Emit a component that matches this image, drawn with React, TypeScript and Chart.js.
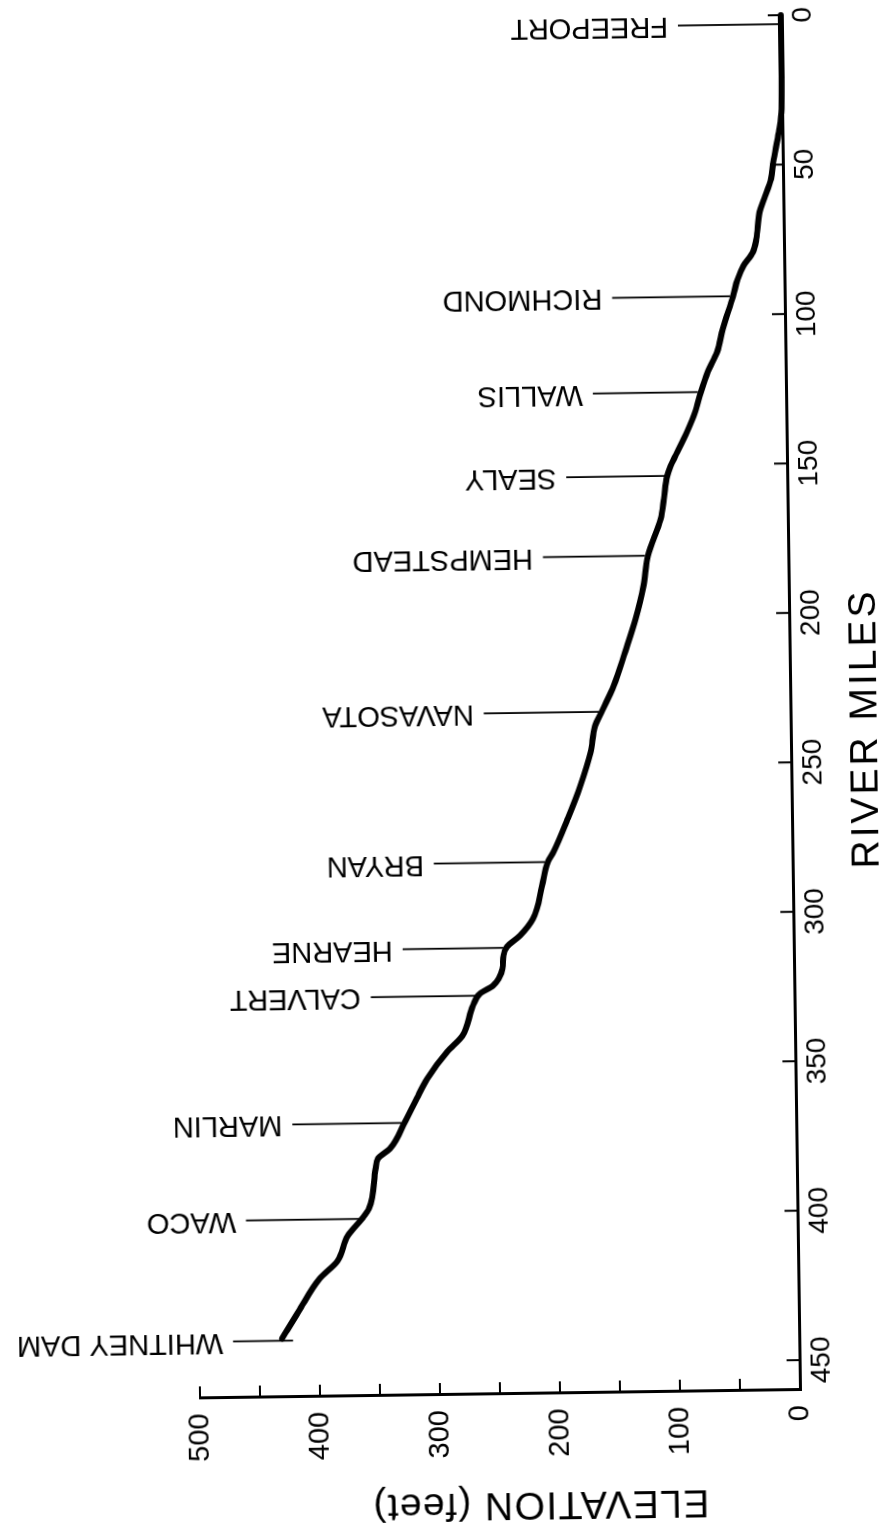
import React, { useEffect, useRef } from "react";
import { Chart, registerables } from "chart.js";

Chart.register(...registerables);

// ---------- data ----------
const RIVER_MILES = [
  0, 31.4, 39.1, 49.2, 54.7, 61.4, 65.8, 74.8, 79.2, 83.7,
  88.1, 93.8, 104.7, 112.4, 119, 125.7, 132.4, 139, 147, 150.3,
  153.6, 161.3, 168, 180.2, 190.3, 201.3, 212.2, 223.6, 231.9, 236.9,
  245.6, 256.9, 267.9, 278.8, 282.2, 290.1, 301.1, 306.7, 310.4, 313.3,
  317.7, 323.3, 325.9, 329.9, 339.9, 345.2, 354.2, 360.7, 368.4, 377.4,
  380.6, 384, 397.3, 400.7, 406.3, 414.8, 420.5, 431.5, 440.4,
];
const ELEVATION_FT = [
  0, 0.5, 3, 8, 10, 16, 20, 23, 26, 34,
  39, 43, 52, 57, 65, 71, 76, 83, 93, 97,
  100, 103, 106, 117, 121, 128, 137, 147, 157, 163,
  167, 176, 187, 199, 204, 209, 217, 228, 239, 242,
  243, 251, 262, 268, 277, 290, 307, 316, 326, 339,
  349, 351, 357, 363, 375, 384, 399, 417, 431,
];
const STATION_NAMES = [
  "FREEPORT", "RICHMOND", "WALLIS", "SEALY", "HEMPSTEAD", "NAVASOTA",
  "BRYAN", "HEARNE", "CALVERT", "MARLIN", "WACO", "WHITNEY DAM",
];
const STATION_MILES = [3, 93.8, 125.7, 153.6, 180.2, 232.2, 282.2, 310.7, 326.6, 368.8, 400.7, 441.1];

const MILE_MIN = 0;
const MILE_MAX = 460;
const MILE_STEP = 50;
const ELEV_MIN = 0;
const ELEV_MAX = 500;
const ELEV_TICK_STEP = 50;
const ELEV_LABEL_STEP = 100;
const X_TITLE = "RIVER MILES";
const Y_TITLE = "ELEVATION (feet)";

// ---------- layout / style ----------
const CANVAS_W = 1600;
const CANVAS_H = 940;
const FONT = '"Liberation Sans", Arial, sans-serif';
const LEADER_LENGTHS = [100, 118, 105, 98, 102, 115, 111, 101, 105, 109, 113, 60];
const LEADER_GAPS = [3, 3, 3, 3, 3, 3, 3, 3, 3, 3, 3, -11];
const LABEL_GAP = 10;

function elevationAt(mile: number): number {
  for (let i = 0; i < RIVER_MILES.length - 1; i++) {
    const a = RIVER_MILES[i];
    const b = RIVER_MILES[i + 1];
    if (mile >= a && mile <= b) {
      const t = (mile - a) / (b - a);
      return ELEVATION_FT[i] + t * (ELEVATION_FT[i + 1] - ELEVATION_FT[i]);
    }
  }
  return mile < RIVER_MILES[0] ? ELEVATION_FT[0] : ELEVATION_FT[ELEVATION_FT.length - 1];
}

const profilePlugin = {
  id: "profileAnnotations",
  afterDraw(chart: any) {
    const { ctx, chartArea } = chart;
    const xs = chart.scales.x;
    const ys = chart.scales.y;
    ctx.save();
    ctx.strokeStyle = "#000";
    ctx.fillStyle = "#000";
    ctx.lineCap = "butt";

    // inward tick marks
    ctx.lineWidth = 2;
    xs.ticks.forEach((t: any) => {
      const px = xs.getPixelForValue(t.value);
      ctx.beginPath();
      ctx.moveTo(px, chartArea.bottom);
      ctx.lineTo(px, chartArea.bottom - 13);
      ctx.stroke();
    });
    ys.ticks.forEach((t: any) => {
      const py = ys.getPixelForValue(t.value);
      ctx.beginPath();
      ctx.moveTo(chartArea.left, py);
      ctx.lineTo(chartArea.left + 12, py);
      ctx.stroke();
    });

    // station leaders and names
    ctx.lineWidth = 1.8;
    ctx.font = `29px ${FONT}`;
    STATION_NAMES.forEach((name, i) => {
      const mile = STATION_MILES[i];
      const px = xs.getPixelForValue(mile);
      const py = ys.getPixelForValue(elevationAt(mile));
      const y0 = py - LEADER_GAPS[i];
      const y1 = y0 - LEADER_LENGTHS[i];
      ctx.beginPath();
      ctx.moveTo(px, y0);
      ctx.lineTo(px, y1);
      ctx.stroke();
      ctx.save();
      ctx.translate(px, y1 - LABEL_GAP);
      ctx.rotate(-Math.PI / 2);
      ctx.textAlign = "left";
      ctx.textBaseline = "middle";
      ctx.fillText(name, 0, 0);
      ctx.restore();
    });

    // axis titles
    ctx.font = `39px ${FONT}`;
    ctx.textAlign = "center";
    ctx.textBaseline = "middle";
    ctx.save();
    (ctx as any).letterSpacing = "3px";
    ctx.fillText(X_TITLE, (chartArea.left + chartArea.right) / 2 - 27, chartArea.bottom + 75);
    ctx.restore();

    ctx.save();
    (ctx as any).letterSpacing = "1.4px";
    ctx.translate(chartArea.left - 110, (chartArea.top + chartArea.bottom) / 2 + 39);
    ctx.rotate(-Math.PI / 2);
    ctx.fillText(Y_TITLE, 0, 0);
    ctx.restore();

    ctx.restore();
  },
};

export default function App() {
  const canvasRef = useRef<HTMLCanvasElement | null>(null);

  useEffect(() => {
    const canvas = canvasRef.current;
    if (!canvas) return;
    const chart = new Chart(canvas, {
      type: "line",
      data: {
        datasets: [
          {
            label: "Profile",
            data: RIVER_MILES.map((m, i) => ({ x: m, y: ELEVATION_FT[i] })),
            borderColor: "#000",
            borderWidth: 6,
            pointRadius: 0,
            cubicInterpolationMode: "monotone",
            borderCapStyle: "round",
            borderJoinStyle: "round",
            fill: false,
            clip: false as any,
          },
        ],
      },
      options: {
        animation: false,
        responsive: false,
        devicePixelRatio: 1,
        layout: { padding: { left: 0, right: 75, top: 220, bottom: 0 } },
        plugins: {
          legend: { display: false },
          tooltip: { enabled: false },
          title: { display: false },
        },
        scales: {
          x: {
            type: "linear",
            position: "bottom",
            reverse: true,
            min: MILE_MIN,
            max: MILE_MAX,
            grid: { display: false, drawTicks: false },
            border: { display: true, width: 3, color: "#000" },
            ticks: {
              stepSize: MILE_STEP,
              includeBounds: false,
              autoSkip: false,
              maxRotation: 0,
              minRotation: 0,
              padding: 5,
              color: "#000",
              font: { family: FONT, size: 28 },
            },
            afterFit: (scale: any) => {
              scale.height = 120;
            },
          },
          y: {
            type: "linear",
            position: "left",
            min: ELEV_MIN,
            max: ELEV_MAX,
            grid: { display: false, drawTicks: false },
            border: { display: true, width: 3, color: "#000" },
            ticks: {
              stepSize: ELEV_TICK_STEP,
              autoSkip: false,
              padding: 15,
              color: "#000",
              font: { family: FONT, size: 29 },
              callback: (v: any) => (Number(v) % ELEV_LABEL_STEP === 0 ? String(v) : ""),
            },
            afterFit: (scale: any) => {
              scale.width = 150;
            },
          },
        },
      } as any,
      plugins: [profilePlugin],
    });
    return () => chart.destroy();
  }, []);

  return (
    <div
      style={{
        position: "fixed",
        left: 0,
        top: 0,
        width: 884,
        height: 1528,
        overflow: "hidden",
        background: "#fff",
      }}
    >
      <div
        style={{
          position: "absolute",
          left: 0,
          top: 0,
          width: CANVAS_W,
          height: CANVAS_H,
          transformOrigin: "0 0",
          transform: "translate(-17.83px, 1551.44px) rotate(-90.8deg)",
        }}
      >
        <canvas
          ref={canvasRef}
          width={CANVAS_W}
          height={CANVAS_H}
          style={{ width: CANVAS_W, height: CANVAS_H, display: "block" }}
        />
      </div>
    </div>
  );
}
